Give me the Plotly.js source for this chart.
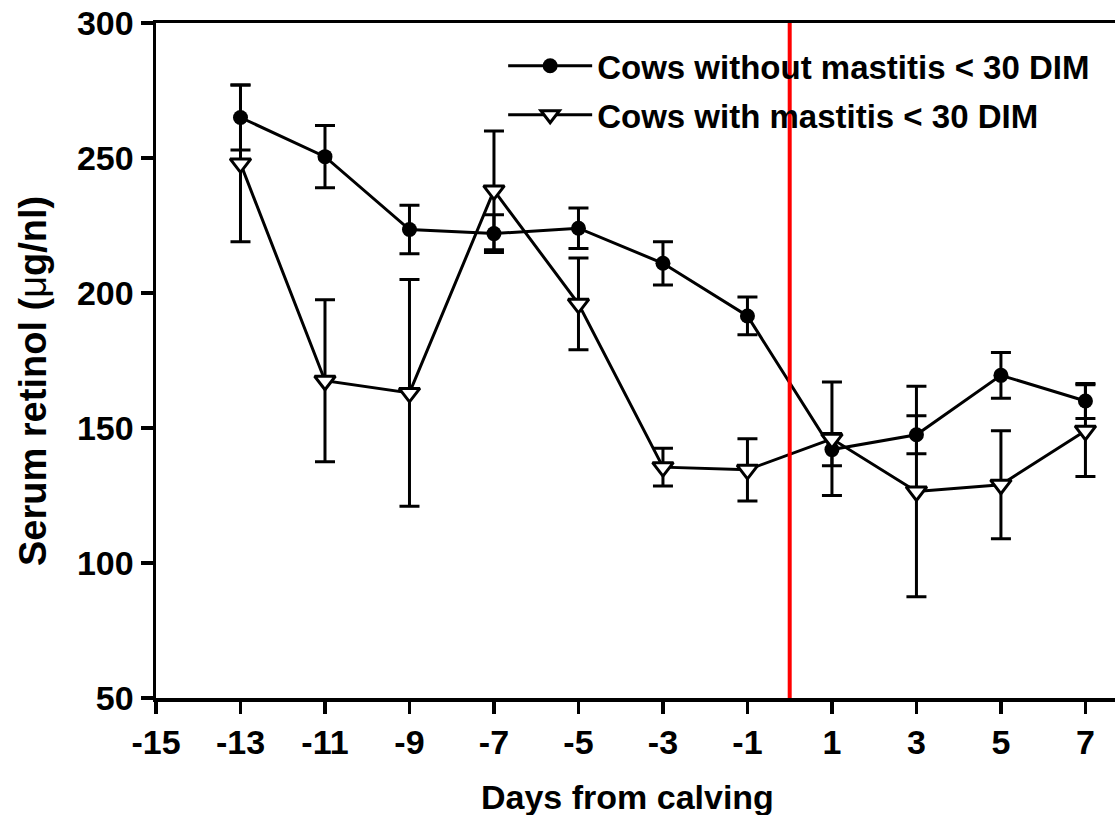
<!DOCTYPE html>
<html>
<head>
<meta charset="utf-8">
<script src="https://cdn.plot.ly/plotly-3.0.1.min.js"></script>
<style>html,body{margin:0;padding:0;background:#fff;overflow:hidden}</style>
</head>
<body>
<div id="chart" style="width:1115px;height:815px"></div>
<script>
// Days from calving
const days = [-13, -11, -9, -7, -5, -3, -1, 1, 3, 5, 7];
// Cows without mastitis < 30 DIM (mean and SEM)
const withoutMean = [265, 250.5, 223.5, 222, 224, 211, 191.5, 142, 147.5, 169.5, 160];
const withoutErr  = [12, 11.5, 9, 7, 7.5, 8, 7, 6, 7, 8.5, 6.5];
// Cows with mastitis < 30 DIM (mean and SEM)
const withMean = [248, 167.5, 163, 238, 196, 135.5, 134.5, 146, 126.5, 129, 149];
const withErr  = [29, 30, 42, 22, 17, 7, 11.5, 21, 39, 20, 17];
const xTicks = [-15, -13, -11, -9, -7, -5, -3, -1, 1, 3, 5, 7];
const yTicks = [50, 100, 150, 200, 250, 300];
const calvingDay = 0;

const FONT = 'Liberation Sans, Arial, Helvetica, sans-serif';

const traces = [
  {
    x: days, y: withoutMean, type: 'scatter', mode: 'lines+markers',
    name: 'Cows without mastitis < 30 DIM', legendgroup: 'a',
    line: {color: '#000', width: 3},
    marker: {symbol: 'circle', size: 15, color: '#000'},
    error_y: {type: 'data', array: withoutErr, visible: true, color: '#000', thickness: 3, width: 10}
  },
  {
    x: days, y: withMean, type: 'scatter', mode: 'lines+markers',
    name: 'Cows with mastitis < 30 DIM', legendgroup: 'b',
    line: {color: '#000', width: 3},
    marker: {symbol: 'triangle-down', size: 18, color: '#fff', line: {color: '#000', width: 3}},
    error_y: {type: 'data', array: withErr, visible: true, color: '#000', thickness: 3, width: 10}
  }
];

const axisCommon = {
  showline: true, linecolor: '#000', linewidth: 3.5,
  ticks: 'outside', ticklen: 12, tickwidth: 3.5, tickcolor: '#000',
  showgrid: false, zeroline: false,
  tickfont: {family: FONT, size: 34, color: '#000', weight: 'bold'}
};

const layout = {
  width: 1115, height: 815,
  margin: {l: 156, r: 0, t: 23, b: 117},
  paper_bgcolor: '#fff', plot_bgcolor: '#fff',
  showlegend: true,
  xaxis: Object.assign({}, axisCommon, {
    range: [-15, 7.7], tickmode: 'array', tickvals: xTicks,
    ticktext: xTicks.map(String), mirror: true
  }),
  yaxis: Object.assign({}, axisCommon, {
    range: [50, 300], tickmode: 'array', tickvals: yTicks,
    ticktext: yTicks.map(String), mirror: false
  }),
  legend: {
    x: 0.362, y: 0.978, xanchor: 'left', yanchor: 'top',
    bgcolor: 'rgba(0,0,0,0)', borderwidth: 0,
    font: {family: FONT, size: 33, color: '#000', weight: 'bold'},
    traceorder: 'grouped', tracegroupgap: 3, itemwidth: 84
  },
  shapes: [{
    type: 'line', xref: 'x', yref: 'y', x0: calvingDay, x1: calvingDay, y0: 50, y1: 300,
    line: {color: '#ff0000', width: 4}, layer: 'above'
  }],
  annotations: [
    {text: 'Days from calving', xref: 'paper', yref: 'paper', x: (627 - 156) / 959, y: -0.176,
     xanchor: 'center', yanchor: 'bottom', showarrow: false, borderpad: 0,
     font: {family: FONT, size: 34, color: '#000', weight: 'bold'}},
    {text: "Serum retinol (<span style='font-weight:normal'>μ</span>g/nl)", xref: 'paper', yref: 'paper',
     x: -0.128, y: 0.47, xanchor: 'center', yanchor: 'middle', textangle: -90, showarrow: false,
     font: {family: FONT, size: 38, color: '#000', weight: 'bold'}}
  ]
};

Plotly.newPlot('chart', traces, layout, {displayModeBar: false, staticPlot: true});
</script>
</body>
</html>
